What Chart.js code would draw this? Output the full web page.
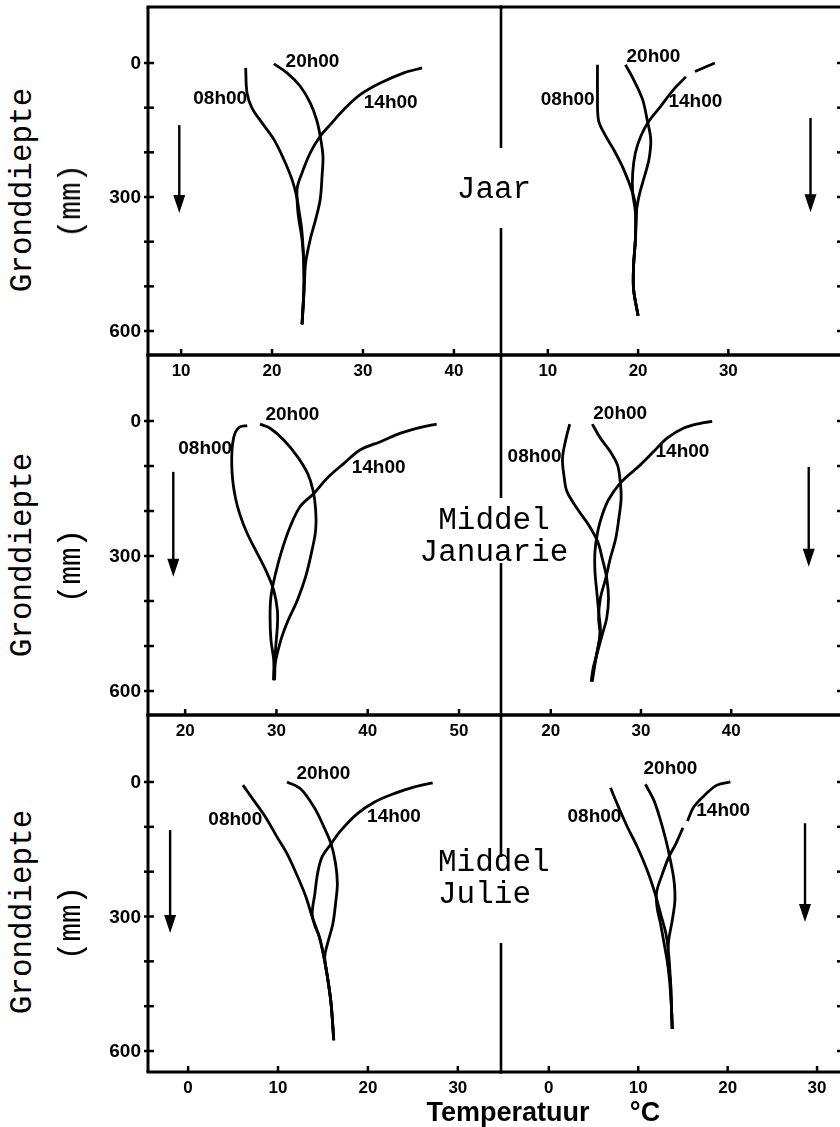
<!DOCTYPE html>
<html><head><meta charset="utf-8">
<script src="https://cdn.jsdelivr.net/npm/chart.js@4/dist/chart.umd.min.js"></script>
<style>
html,body{margin:0;padding:0;background:#fff;overflow:hidden;}
#wrap{position:relative;width:840px;height:1127px;overflow:hidden;background:#fff;}
#wrap canvas{position:absolute;}
.mono{position:absolute;font-family:"Liberation Mono","DejaVu Sans Mono",monospace;font-size:31px;color:#000;white-space:pre;line-height:32px;}
.rot{transform:translate(-50%,-50%) rotate(-90deg);}
.sans{position:absolute;font-family:"Liberation Sans",Arial,sans-serif;font-weight:bold;font-size:27px;color:#000;white-space:pre;transform:translate(-50%,-50%);}
</style></head><body><div id="wrap"></div>
<script>
// ---- tick values / labels ----
const depthTicks = [0,100,200,300,400,500,600];
const depthLabels = ['0','','','300','','','600'];
const tempTicksJaarA = [10,20,30,40];
const tempTicksJaarB = [10,20,30];
const tempTicksJanA = [20,30,40,50];
const tempTicksJanB = [20,30,40];
const tempTicksJulA = [0,10,20,30];
const tempTicksJulB = [0,10,20,30];
const seriesNames = ['08h00','14h00','20h00'];

// ---- series: [temperature °C, depth mm] ----
const jaarA08 = [[17.1,11],[17.25,67],[17.8,101],[18.9,134],[20.2,171],[21.3,216],[22.2,261],[22.7,298],[23.0,335],[23.3,380],[23.5,454],[23.5,514],[23.3,585]];
const jaarA14 = [[36.5,11],[34.5,22],[31.9,45],[29.7,71],[27.9,104],[26.4,138],[25.3,164],[24.2,201],[23.3,246],[22.8,276],[22.75,305],[22.9,343],[23.3,395],[23.5,454],[23.5,514],[23.3,585]];
const jaarA20 = [[20.2,2],[21.65,22],[23.1,52],[24.2,89],[24.9,127],[25.3,164],[25.6,209],[25.5,253],[25.3,305],[24.8,350],[24.2,395],[23.7,447],[23.55,499],[23.4,544],[23.3,585]];

const jaarB08 = [[15.5,4],[15.5,67],[15.6,127],[16.2,156],[17.3,194],[18.4,238],[19.4,291],[19.8,328],[19.8,343],[19.7,395],[19.5,454],[19.5,507],[20.0,566]];
const jaarB14 = [[28.5,0],[26.3,19],null,[25.3,31],[23.9,60],[22.5,97],[21.2,130],[20.3,164],[19.7,201],[19.4,246],[19.4,291],[19.7,335],[19.7,395],[19.5,454],[19.5,507],[20.0,566]];
const jaarB20 = [[18.6,4],[19.5,37],[20.5,82],[21.0,127],[21.4,171],[21.2,216],[20.6,261],[20.1,298],[19.8,335],[19.7,395],[19.5,454],[19.5,507],[20.0,566]];

const janA08 = [[26.8,10],[26.0,13],[25.5,25],[25.2,50],[25.1,90],[25.2,130],[25.5,170],[26.0,208],[26.8,250],[27.9,294],[29.0,339],[29.7,376],[30.1,420],[30.1,457],[29.9,509],[29.8,576]];
const janA14 = [[47.55,7],[45.8,14],[43.6,27],[41.4,46],[39.2,64],[37.4,94],[35.55,127],[34.1,161],[32.6,190],[31.5,235],[30.6,287],[29.9,339],[29.4,390],[29.3,435],[29.4,487],[29.7,531],[29.7,576]];
const janA20 = [[28.2,7],[29.3,16],[30.8,42],[32.3,79],[33.4,116],[34.0,153],[34.3,198],[34.3,242],[33.9,287],[33.2,346],[32.3,398],[31.3,442],[30.6,479],[30.1,516],[29.8,546],[29.7,576]];

const janB08 = [[22.1,7],[21.7,38],[21.3,83],[21.5,127],[21.8,157],[22.9,194],[24.2,231],[25.2,268],[25.7,305],[26.2,349],[26.4,394],[26.2,438],[25.7,475],[25.2,512],[24.7,549],[24.5,579]];
const janB14 = [[37.9,1],[36.6,5],[34.7,16],[32.9,38],[31.4,68],[29.9,98],[27.7,138],[26.4,175],[25.7,209],[25.2,246],[24.9,290],[24.9,335],[25.1,379],[25.3,423],[25.5,468],[25.15,512],[24.7,557],[24.5,579]];
const janB20 = [[24.6,7],[25.5,38],[26.6,68],[27.4,98],[27.7,135],[27.8,172],[27.55,216],[27.2,261],[26.6,305],[26.1,349],[25.5,394],[25.3,438],[25.45,475],[25.0,527],[24.6,579]];

const julA08 = [[6.1,7],[7.3,41],[8.6,78],[9.9,123],[11.0,160],[12.2,212],[13.1,256],[13.8,301],[14.6,346],[15.1,390],[15.5,435],[15.9,494],[16.2,576]];
const julA14 = [[27.2,2],[25.2,11],[22.9,26],[20.7,45],[18.8,71],[17.0,108],[15.9,138],[14.9,167],[14.4,204],[14.1,249],[13.8,294],[14.1,320],[14.6,346],[15.1,390],[15.5,435],[15.9,494],[16.2,576]];
const julA20 = [[11.0,0],[12.5,15],[14.0,56],[15.1,100],[15.9,138],[16.4,182],[16.6,227],[16.4,271],[16.1,316],[15.5,361],[15.2,390],[15.5,435],[15.9,494],[16.2,576]];

const julB08 = [[6.9,13],[7.8,56],[8.8,101],[9.9,145],[11.0,197],[11.9,250],[12.5,294],[13.1,339],[13.4,384],[13.6,443],[13.7,495],[13.8,551]];
const julB14 = [[20.3,0],[18.8,7],[17.4,30],[16.2,56],[15.5,87],null,[15.0,102],[14.2,138],[13.4,168],[12.7,205],[12.05,246],[12.1,279],[12.5,317],[12.9,361],[13.3,406],[13.6,443],[13.7,495],[13.8,551]];
const julB20 = [[10.8,5],[11.75,41],[12.5,86],[13.1,130],[13.6,175],[14.0,220],[14.1,264],[13.8,309],[13.4,354],[13.3,399],[13.5,443],[13.7,495],[13.8,551]];

// label anchor points (temperature, depth) for 08h00, 14h00, 20h00
const labelsJaarA = [[14.3,81],[33.05,90],[24.45,-2]];
const labelsJaarB = [[12.2,83],[26.35,87],[21.7,-13]];
const labelsJanA = [[22.2,62],[41.2,104],[31.75,-13]];
const labelsJanB = [[18.2,80],[34.6,69],[27.7,-16]];
const labelsJulA = [[5.25,85],[22.9,78],[15.05,-18]];
const labelsJulB = [[5.1,78],[19.5,65],[13.6,-29]];

// ---- panel layout ----
const panels = [
 {rect:[148,7,501,355], x:[6.36,45.18], y:[-125.4,653.7], xt:tempTicksJaarA, side:'left', gap:[148,228], s:[jaarA08,jaarA14,jaarA20], lab:labelsJaarA, arrow:[9.8,139,336]},
 {rect:[501,7,843,355], x:[4.81,42.7], y:[-125.4,653.7], xt:tempTicksJaarB, side:'right', s:[jaarB08,jaarB14,jaarB20], lab:labelsJaarB, arrow:[39.1,123,334]},
 {rect:[148,355,501,715], x:[15.93,54.6], y:[-146.7,653.3], xt:tempTicksJanA, side:'left', gap:[498,563], s:[janA08,janA14,janA20], lab:labelsJanA, arrow:[18.7,113,346]},
 {rect:[501,355,843,715], x:[14.48,52.4], y:[-146.7,653.3], xt:tempTicksJanB, side:'right', s:[janB08,janB14,janB20], lab:labelsJanB, arrow:[48.6,102,324]},
 {rect:[148,715,501,1072], x:[-4.46,34.8], y:[-149.4,646.8], xt:tempTicksJulA, side:'left', gap:[857,943], s:[julA08,julA14,julA20], lab:labelsJulA, arrow:[-2.0,107,337]},
 {rect:[501,715,843,1072], x:[-5.35,32.9], y:[-149.4,646.8], xt:tempTicksJulB, side:'right', s:[julB08,julB14,julB20], lab:labelsJulB, arrow:[28.65,92,312]}
];

const wrap = document.getElementById('wrap');
const toPts = arr => arr.map(p => p ? {x:p[0], y:p[1]} : {x:null, y:null});

function decoPlugin(p, MT){
  return {
    id:'deco',
    afterDatasetsDraw(chart){
      const ctx = chart.ctx, a = chart.chartArea, xs = chart.scales.x, ys = chart.scales.y;
      const top0 = p.rect[1] - MT;
      ctx.save();
      ctx.strokeStyle = '#000'; ctx.fillStyle = '#000';
      const ln = (x1,y1,x2,y2,w) => { ctx.lineWidth = w; ctx.beginPath(); ctx.moveTo(x1,y1); ctx.lineTo(x2,y2); ctx.stroke(); };
      // frame
      ln(a.left-1.5, a.top, a.right+1.5, a.top, 3);
      ln(a.left-1.5, a.bottom, a.right+1.5, a.bottom, 3);
      if (p.side === 'left') {
        ln(a.left, a.top, a.left, a.bottom, 3);
        ln(a.right, a.top, a.right, p.gap[0]-top0, 2.6);
        ln(a.right, p.gap[1]-top0, a.right, a.bottom, 2.6);
      } else {
        ln(a.right, a.top, a.right, a.bottom, 3);
      }
      // depth ticks
      ctx.font = 'bold 19px "Liberation Sans", Arial, sans-serif';
      ctx.textAlign = 'right'; ctx.textBaseline = 'middle';
      depthTicks.forEach((d,i) => {
        const yy = ys.getPixelForValue(d);
        if (p.side === 'left') {
          ln(a.left-4, yy, a.left+6, yy, 2.5);
          if (depthLabels[i]) ctx.fillText(depthLabels[i], a.left-7, yy+1);
        } else {
          ln(a.right-6, yy, a.right, yy, 2.5);
        }
      });
      // temperature ticks
      ctx.font = 'bold 17px "Liberation Sans", Arial, sans-serif';
      ctx.textAlign = 'center';
      p.xt.forEach(t => {
        const xx = xs.getPixelForValue(t);
        ln(xx, a.bottom, xx, a.bottom-6, 2.5);
        ctx.fillText(String(t), xx, a.bottom+16);
      });
      // curve labels
      ctx.font = 'bold 19px "Liberation Sans", Arial, sans-serif';
      p.lab.forEach((l,i) => {
        ctx.fillText(seriesNames[i], xs.getPixelForValue(l[0]), ys.getPixelForValue(l[1]));
      });
      // arrow
      const ax = xs.getPixelForValue(p.arrow[0]);
      const ay1 = ys.getPixelForValue(p.arrow[1]), ay2 = ys.getPixelForValue(p.arrow[2]);
      ln(ax, ay1, ax, ay2-14, 2.4);
      ctx.beginPath(); ctx.moveTo(ax-6, ay2-18); ctx.lineTo(ax+6, ay2-18); ctx.lineTo(ax, ay2); ctx.closePath(); ctx.fill();
      ctx.restore();
    }
  };
}

panels.forEach(p => {
  const ML = p.side === 'left' ? 80 : 10, MR = 10, MT = 8, MB = 34;
  const w = p.rect[2]-p.rect[0], h = p.rect[3]-p.rect[1];
  const cv = document.createElement('canvas');
  cv.width = w+ML+MR; cv.height = h+MT+MB;
  cv.style.left = (p.rect[0]-ML)+'px'; cv.style.top = (p.rect[1]-MT)+'px';
  cv.style.width = cv.width+'px'; cv.style.height = cv.height+'px';
  wrap.appendChild(cv);
  new Chart(cv, {
    type:'scatter',
    data:{ datasets: p.s.map((s,i) => ({
      label: seriesNames[i], data: toPts(s), showLine:true, spanGaps:false,
      borderColor:'#000', borderWidth:2.8, pointRadius:0, tension:0.35, fill:false
    }))},
    options:{
      responsive:false, animation:false, devicePixelRatio:1, events:[],
      layout:{padding:{left:ML, right:MR, top:MT, bottom:MB}},
      plugins:{legend:{display:false}, tooltip:{enabled:false}, title:{display:false}},
      scales:{
        x:{type:'linear', display:false, min:p.x[0], max:p.x[1]},
        y:{type:'linear', display:false, reverse:true, min:p.y[0], max:p.y[1]}
      }
    },
    plugins:[decoPlugin(p, MT)]
  });
});

// ---- text ----
function addText(cls, txt, css){
  const d = document.createElement('div'); d.className = cls; d.textContent = txt;
  Object.assign(d.style, css); wrap.appendChild(d); return d;
}
[[190,201],[555,566],[912,923]].forEach(r => {
  addText('mono rot', 'Gronddiepte', {left:'23px', top:r[0]+'px'});
  addText('mono rot', '(mm)', {left:'72px', top:r[1]+'px'});
});
addText('mono', 'Jaar', {left:'494px', top:'190px', transform:'translate(-50%,-50%)'});
addText('mono', 'Middel\nJanuarie', {left:'494px', top:'537px', transform:'translate(-50%,-50%)', textAlign:'center'});
addText('mono', 'Middel\nJulie', {left:'438px', top:'879px', transform:'translate(0,-50%)', textAlign:'left'});
addText('sans', 'Temperatuur', {left:'508px', top:'1112px'});
addText('sans', '°C', {left:'645px', top:'1112px'});
</script>
</body></html>
